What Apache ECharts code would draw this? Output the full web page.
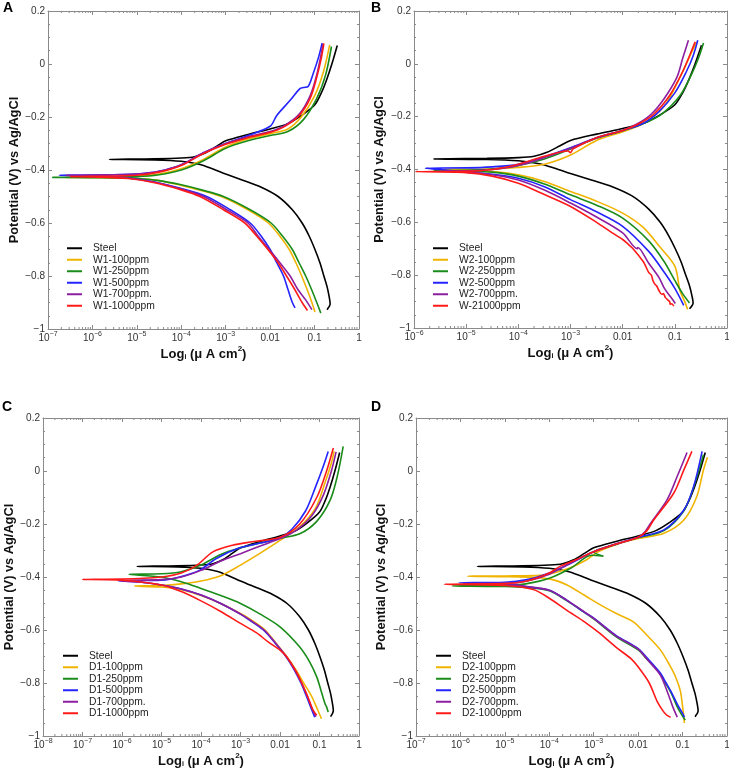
<!DOCTYPE html>
<html lang="en">
<head>
    <meta charset="UTF-8">
    <title>Tafel plots</title>
    <script src="https://cdn.jsdelivr.net/npm/echarts@6/dist/echarts.min.js"></script>
    <style>
        html, body { margin: 0; padding: 0; background: #fff; }
        #main { width: 729px; height: 768px; }
    </style>
</head>
<body>
<div id="main"></div>
<script type="application/javascript">
    // curves: [current density, potential], cathodic end -> Ecorr tip -> anodic end
    var steel = [[0.191,-0.927],[0.224,-0.905],[0.214,-0.88],[0.191,-0.84],[0.162,-0.80],[0.132,-0.75],[0.102,-0.70],[0.0759,-0.65],[0.0525,-0.60],[0.0316,-0.55],[0.0151,-0.50],[0.00631,-0.465],[0.00251,-0.44],[0.001,-0.415],[5.01e-4,-0.395],[2.51e-4,-0.378],[1e-4,-0.367],[2.51e-5,-0.362],[2.4e-6,-0.36],
        [2.51e-5,-0.358],[1e-4,-0.355],[2e-4,-0.35],[3.55e-4,-0.335],[6.31e-4,-0.31],[0.001,-0.29],[0.00316,-0.266],[0.01,-0.245],[0.0251,-0.225],[0.0501,-0.195],[0.1,-0.155],[0.141,-0.11],[0.186,-0.06],[0.245,0.0],[0.324,0.07]];

    // panel A
    var w1_100 = [[0.102,-0.936],[0.0871,-0.90],[0.0676,-0.85],[0.0513,-0.80],[0.038,-0.75],[0.0269,-0.70],[0.0166,-0.65],[0.00912,-0.60],[0.00316,-0.55],[7.94e-4,-0.50],[2.51e-4,-0.475],[1e-4,-0.458],[3.16e-5,-0.44],[1e-5,-0.432],[1.58e-6,-0.429],[2.51e-7,-0.428],
        [1e-6,-0.427],[1e-5,-0.423],[3.16e-5,-0.415],[1e-4,-0.395],[3.16e-4,-0.36],[1e-3,-0.313],[3.16e-3,-0.283],[0.01,-0.263],[0.0251,-0.245],[0.0501,-0.2],[0.1,-0.12],[0.158,-0.03],[0.219,0.072]];
    var w1_250 = [[0.138,-0.94],[0.112,-0.90],[0.0851,-0.85],[0.0631,-0.80],[0.0447,-0.75],[0.0316,-0.70],[0.0191,-0.65],[0.0105,-0.60],[0.00355,-0.55],[8.91e-4,-0.50],[2.82e-4,-0.475],[1e-4,-0.456],[3.16e-5,-0.44],[1e-5,-0.432],[1e-6,-0.429],[1.26e-7,-0.428],
        [1e-6,-0.4275],[1e-5,-0.425],[3.16e-5,-0.418],[1e-4,-0.40],[3.16e-4,-0.365],[1e-3,-0.318],[3.16e-3,-0.29],[0.01,-0.27],[0.0251,-0.255],[0.0562,-0.21],[0.112,-0.13],[0.178,-0.04],[0.24,0.066]];
    var w1_500 = [[0.0363,-0.92],[0.0316,-0.90],[0.0251,-0.85],[0.02,-0.80],[0.0141,-0.75],[0.01,-0.70],[0.00631,-0.65],[0.00355,-0.60],[0.00126,-0.55],[3.72e-4,-0.50],[1e-4,-0.47],[2.51e-5,-0.445],[6.31e-6,-0.43],[1e-6,-0.422],[1.78e-7,-0.42],
        [1e-6,-0.419],[1e-5,-0.415],[3.16e-5,-0.405],[1e-4,-0.38],[3.16e-4,-0.335],[1e-3,-0.30],[3.16e-3,-0.27],[0.01,-0.235],[0.0141,-0.194],[0.0282,-0.137],[0.0468,-0.093],[0.0562,-0.089],[0.0724,-0.084],[0.0933,-0.036],[0.123,0.026],[0.148,0.079]];
    var w1_700 = [[0.0871,-0.927],[0.0631,-0.89],[0.0417,-0.85],[0.0282,-0.80],[0.0166,-0.75],[0.00955,-0.70],[0.00537,-0.65],[0.00316,-0.60],[0.00105,-0.55],[3.16e-4,-0.50],[1e-4,-0.472],[2.51e-5,-0.446],[6.31e-6,-0.43],[1e-6,-0.422],[2.51e-7,-0.42],
        [1e-6,-0.419],[1e-5,-0.415],[3.16e-5,-0.405],[1e-4,-0.38],[3.16e-4,-0.335],[1e-3,-0.30],[3.16e-3,-0.275],[0.01,-0.255],[0.02,-0.235],[0.0447,-0.19],[0.0794,-0.12],[0.112,-0.04],[0.138,0.03],[0.155,0.076]];
    var w1_1000 = [[0.0692,-0.93],[0.0525,-0.90],[0.0355,-0.85],[0.0234,-0.80],[0.0151,-0.75],[0.00891,-0.70],[0.00501,-0.65],[0.00269,-0.60],[8.91e-4,-0.55],[2.63e-4,-0.50],[1e-4,-0.475],[2.51e-5,-0.448],[6.31e-6,-0.432],[1e-6,-0.426],[3.16e-7,-0.425],
        [1e-6,-0.424],[1e-5,-0.42],[3.16e-5,-0.408],[1e-4,-0.383],[3.16e-4,-0.338],[1e-3,-0.303],[3.16e-3,-0.278],[0.01,-0.258],[0.02,-0.238],[0.0447,-0.195],[0.0794,-0.13],[0.112,-0.05],[0.141,0.02],[0.162,0.078]];

    // panel B
    var w2_100 = [[0.176,-0.93],[0.155,-0.90],[0.126,-0.86],[0.1,-0.766],[0.0501,-0.69],[0.0251,-0.62],[0.01,-0.565],[3.16e-3,-0.52],[1e-3,-0.483],[3.16e-4,-0.445],[1e-4,-0.42],[3.16e-5,-0.408],[1e-5,-0.402],[2.82e-6,-0.40],
        [1e-5,-0.399],[3.16e-5,-0.397],[1e-4,-0.392],[3.16e-4,-0.38],[1e-3,-0.345],[3.16e-3,-0.29],[0.01,-0.257],[0.0251,-0.225],[0.0631,-0.16],[0.126,-0.05],[0.2,0.035],[0.263,0.083]];
    var w2_250 = [[0.191,-0.905],[0.141,-0.87],[0.1,-0.82],[0.0631,-0.75],[0.0316,-0.67],[0.01,-0.584],[3.16e-3,-0.535],[1e-3,-0.496],[3.16e-4,-0.455],[1e-4,-0.425],[3.16e-5,-0.41],[1e-5,-0.406],[2.4e-6,-0.404],
        [1e-5,-0.403],[3.16e-5,-0.398],[1e-4,-0.385],[3.16e-4,-0.36],[1e-3,-0.322],[3.16e-3,-0.282],[0.01,-0.253],[0.0251,-0.226],[0.0562,-0.19],[0.126,-0.12],[0.209,-0.04],[0.282,0.02],[0.355,0.079]];
    var w2_500 = [[0.148,-0.914],[0.1,-0.85],[0.0631,-0.79],[0.0316,-0.71],[0.01,-0.615],[3.16e-3,-0.56],[1e-3,-0.514],[3.16e-4,-0.465],[1e-4,-0.433],[3.16e-5,-0.418],[1e-5,-0.41],[3.16e-6,-0.40],[1.66e-6,-0.395],
        [1e-5,-0.394],[3.16e-5,-0.39],[1e-4,-0.38],[3.16e-4,-0.352],[1e-3,-0.318],[3.16e-3,-0.28],[0.01,-0.252],[0.0251,-0.225],[0.0501,-0.18],[0.1,-0.11],[0.166,-0.03],[0.224,0.03],[0.275,0.089]];
    var w2_700 = [[0.102,-0.907],[0.0891,-0.89],[0.0631,-0.85],[0.0501,-0.81],[0.0316,-0.755],[0.0195,-0.695],[0.0191,-0.70],[0.01,-0.64],[3.16e-3,-0.58],[1e-3,-0.527],[3.16e-4,-0.478],[1e-4,-0.44],[3.16e-5,-0.42],[1e-5,-0.41],[3.16e-6,-0.406],
        [1e-5,-0.405],[3.16e-5,-0.40],[1e-4,-0.385],[3.16e-4,-0.355],[1e-3,-0.32],[3.16e-3,-0.28],[0.01,-0.252],[0.02,-0.225],[0.0355,-0.19],[0.0631,-0.13],[0.11,-0.05],[0.141,0.02],[0.182,0.089]];
    var w2_1000 = [[0.0955,-0.917],[0.0871,-0.908],[0.0813,-0.91],[0.0794,-0.90],[0.0661,-0.885],[0.0603,-0.87],[0.0562,-0.872],[0.0501,-0.86],[0.0447,-0.84],[0.0417,-0.835],[0.038,-0.82],[0.0355,-0.80],[0.0316,-0.79],[0.0282,-0.77],[0.0251,-0.75],[0.0158,-0.70],[0.0123,-0.68],[0.01,-0.665],[0.00631,-0.64],[3.16e-3,-0.60],[1e-3,-0.54],[3.16e-4,-0.495],[1e-4,-0.452],[3.16e-5,-0.425],[1e-5,-0.412],[1.07e-6,-0.408],
        [1e-5,-0.407],[3.16e-5,-0.40],[1e-4,-0.38],[3.16e-4,-0.35],[8.91e-4,-0.33],[1e-3,-0.336],[1.12e-3,-0.322],[3.16e-3,-0.28],[0.01,-0.252],[0.02,-0.228],[0.0398,-0.19],[0.0794,-0.12],[0.141,-0.03],[0.2,0.04],[0.245,0.083]];

    // panel C
    var d1_100 = [[0.112,-0.935],[0.0891,-0.9],[0.0631,-0.85],[0.0398,-0.80],[0.0251,-0.75],[0.0148,-0.70],[0.00794,-0.65],[0.00417,-0.60],[0.00178,-0.56],[1e-3,-0.538],[3.16e-4,-0.50],[1e-4,-0.47],[3.16e-5,-0.448],[1e-5,-0.438],[2.09e-6,-0.434],
        [1e-5,-0.432],[3.16e-5,-0.426],[1e-4,-0.415],[3.16e-4,-0.395],[1e-3,-0.355],[3.16e-3,-0.31],[0.01,-0.262],[0.0316,-0.21],[0.0794,-0.14],[0.141,-0.04],[0.2,0.03],[0.234,0.074]];
    var d1_250 = [[0.166,-0.91],[0.151,-0.89],[0.138,-0.878],[0.11,-0.83],[0.0851,-0.777],[0.0562,-0.72],[0.0316,-0.664],[0.01,-0.588],[3.16e-3,-0.54],[1e-3,-0.50],[3.16e-4,-0.47],[1e-4,-0.443],[3.16e-5,-0.418],[1e-5,-0.40],[1.51e-6,-0.39],
        [1e-5,-0.388],[3.16e-5,-0.38],[1e-4,-0.355],[3.16e-4,-0.315],[1e-3,-0.29],[3.16e-3,-0.272],[0.01,-0.254],[0.0316,-0.237],[0.0851,-0.19],[0.186,-0.11],[0.282,-0.02],[0.398,0.093]];
    var d1_500 = [[0.0759,-0.929],[0.0631,-0.9],[0.0468,-0.85],[0.0339,-0.80],[0.0229,-0.75],[0.0141,-0.70],[0.00759,-0.65],[0.0038,-0.60],[0.00158,-0.56],[1e-3,-0.54],[3.16e-4,-0.50],[1e-4,-0.468],[3.16e-5,-0.445],[1e-5,-0.43],[3.16e-6,-0.42],[7.94e-7,-0.414],
        [1e-5,-0.412],[2.88e-5,-0.40],[9.33e-5,-0.374],[2.45e-4,-0.33],[9.55e-4,-0.29],[3.16e-3,-0.272],[0.01,-0.252],[0.02,-0.22],[0.0447,-0.15],[0.0794,-0.06],[0.126,0.02],[0.166,0.074]];
    var d1_700 = [[0.0813,-0.927],[0.0661,-0.9],[0.049,-0.85],[0.0355,-0.80],[0.024,-0.75],[0.0145,-0.70],[0.00776,-0.65],[0.00398,-0.60],[0.00166,-0.56],[1e-3,-0.54],[3.16e-4,-0.50],[1e-4,-0.468],[3.16e-5,-0.445],[1e-5,-0.43],[3.16e-6,-0.42],[8.71e-7,-0.414],
        [1e-5,-0.41],[3.16e-5,-0.40],[1e-4,-0.375],[3.16e-4,-0.34],[1e-3,-0.312],[3.16e-3,-0.283],[0.01,-0.255],[0.0251,-0.225],[0.0631,-0.17],[0.126,-0.09],[0.2,0.0],[0.263,0.072]];
    var d1_1000 = [[0.0851,-0.922],[0.0676,-0.9],[0.0501,-0.85],[0.0355,-0.80],[0.024,-0.75],[0.0145,-0.70],[0.01,-0.676],[0.00501,-0.645],[0.00251,-0.61],[1e-3,-0.575],[3.16e-4,-0.53],[1e-4,-0.49],[3.16e-5,-0.455],[1e-5,-0.43],[1e-6,-0.412],[1e-7,-0.409],
        [1e-6,-0.408],[1e-5,-0.40],[3.16e-5,-0.385],[7.94e-5,-0.355],[2e-4,-0.305],[6.31e-4,-0.28],[2e-3,-0.267],[0.01,-0.25],[0.0316,-0.2],[0.0851,-0.1],[0.151,0.0],[0.224,0.087]];

    // panel D
    var d2_100 = [[0.11,-0.951],[0.102,-0.9],[0.0891,-0.83],[0.0708,-0.78],[0.0501,-0.73],[0.0316,-0.675],[0.0158,-0.62],[0.00794,-0.57],[3.16e-3,-0.537],[1.58e-3,-0.51],[6.31e-4,-0.47],[2.51e-4,-0.43],[1e-4,-0.407],[3.16e-5,-0.401],[1e-5,-0.399],[1.45e-6,-0.397],
        [1e-5,-0.396],[6.31e-5,-0.394],[2.51e-4,-0.37],[6.92e-4,-0.335],[1.26e-3,-0.305],[3.16e-3,-0.278],[0.01,-0.255],[0.038,-0.235],[0.107,-0.185],[0.209,-0.096],[0.295,0.004],[0.363,0.052]];
    var d2_250 = [[0.115,-0.94],[0.1,-0.925],[0.0759,-0.89],[0.0562,-0.84],[0.038,-0.79],[0.0316,-0.765],[0.0158,-0.71],[0.01,-0.675],[3.16e-3,-0.625],[1e-3,-0.558],[5.75e-4,-0.53],[2.51e-4,-0.49],[1e-4,-0.452],[3.16e-5,-0.44],[1e-5,-0.436],[6.61e-7,-0.434],
        [1e-5,-0.432],[3.16e-5,-0.425],[1e-4,-0.405],[3.16e-4,-0.365],[8.91e-4,-0.318],[1.66e-3,-0.322],[1e-3,-0.306],[3.16e-3,-0.277],[0.01,-0.252],[0.038,-0.225],[0.107,-0.15],[0.178,-0.06],[0.295,0.061]];
    var d2_500 = [[0.11,-0.929],[0.1,-0.915],[0.0759,-0.88],[0.0562,-0.835],[0.038,-0.785],[0.0316,-0.762],[0.0158,-0.705],[0.01,-0.67],[3.16e-3,-0.62],[1e-3,-0.555],[5.75e-4,-0.53],[2.51e-4,-0.488],[1e-4,-0.45],[3.16e-5,-0.437],[1e-5,-0.428],[9.33e-7,-0.422],
        [1e-5,-0.42],[3.16e-5,-0.41],[1e-4,-0.385],[2.51e-4,-0.355],[1e-3,-0.305],[3.16e-3,-0.276],[0.01,-0.25],[0.038,-0.222],[0.107,-0.147],[0.178,-0.058],[0.275,0.074]];
    var d2_700 = [[0.0759,-0.929],[0.0603,-0.89],[0.0447,-0.83],[0.0316,-0.77],[0.0158,-0.71],[0.01,-0.672],[3.16e-3,-0.622],[1e-3,-0.556],[2.51e-4,-0.488],[1e-4,-0.45],[3.16e-5,-0.436],[1e-5,-0.428],[1.23e-6,-0.425],
        [1e-5,-0.424],[3.16e-5,-0.415],[1e-4,-0.39],[3.16e-4,-0.345],[1e-3,-0.305],[3.16e-3,-0.275],[0.01,-0.25],[0.0141,-0.23],[0.0191,-0.197],[0.0447,-0.109],[0.0759,-0.02],[0.126,0.07]];
    var d2_1000 = [[0.0537,-0.929],[0.0447,-0.922],[0.038,-0.91],[0.0269,-0.87],[0.0178,-0.80],[0.0112,-0.75],[0.00708,-0.71],[3.16e-3,-0.665],[1.38e-3,-0.613],[6.31e-4,-0.57],[2.45e-4,-0.525],[1e-4,-0.48],[4.37e-5,-0.447],[1e-5,-0.432],[4.37e-7,-0.427],
        [1e-5,-0.425],[3.16e-5,-0.415],[1e-4,-0.385],[1.74e-4,-0.36],[3.98e-4,-0.335],[1e-3,-0.305],[3.16e-3,-0.276],[0.01,-0.25],[0.0158,-0.225],[0.0224,-0.185],[0.0631,-0.084],[0.107,0.004],[0.162,0.074]];

    var namesA = ['Steel', 'W1-100ppm', 'W1-250ppm', 'W1-500ppm', 'W1-700ppm.', 'W1-1000ppm'];
    var namesB = ['Steel', 'W2-100ppm', 'W2-250ppm', 'W2-500ppm', 'W2-700ppm.', 'W-21000ppm'];
    var namesC = ['Steel', 'D1-100ppm', 'D1-250ppm', 'D1-500ppm', 'D1-700ppm.', 'D1-1000ppm'];
    var namesD = ['Steel', 'D2-100ppm', 'D2-250ppm', 'D2-500ppm', 'D2-700ppm.', 'D2-1000ppm'];
    var xMins = [1e-7, 1e-6, 1e-8, 1e-7];
    var letters = ['A', 'B', 'C', 'D'];
    var decadeText = {'-2': '0.01', '-1': '0.1', '0': '1'};

    var colors = ['#000000', '#f0b400', '#1a8c1a', '#2424ff', '#8c1fa0', '#ff1a1a'];
    var axisGray = '#8a8a8a';
    var font = '"Liberation Sans", Arial, sans-serif';

    var panels = [
        {names: namesA, curves: [steel, w1_100, w1_250, w1_500, w1_700, w1_1000]},
        {names: namesB, curves: [steel, w2_100, w2_250, w2_500, w2_700, w2_1000]},
        {names: namesC, curves: [steel, d1_100, d1_250, d1_500, d1_700, d1_1000]},
        {names: namesD, curves: [steel, d2_100, d2_250, d2_500, d2_700, d2_1000]}
    ];
    // pixel layout of each panel
    var layout = [
        {left: 48, top: 11, width: 311, height: 318, legend: [67, 242.5], letter: [3, 1], gapY: 26},
        {left: 414, top: 11, width: 313, height: 317, legend: [433, 242.5], letter: [371, 1], gapY: 28},
        {left: 43, top: 418, width: 316, height: 318, legend: [63, 650], letter: [2, 400], gapY: 24},
        {left: 416, top: 418, width: 311, height: 318, legend: [436, 650], letter: [371, 400], gapY: 28}
    ];

    function yLabel(v) {
        var s = String(Math.round(Math.abs(v) * 10) / 10);
        return v < -1e-9 ? '\u2212' + s : s;
    }

    function xLabel(v) {
        var e = Math.round(Math.log10(v));
        if (decadeText[e] !== undefined) return '{n|' + decadeText[e] + '}';
        return '{n|10}{sup|\u2212' + (-e) + '}';
    }

    function minorTicks(xMin) {
        var out = [];
        for (var d = Math.round(Math.log10(xMin)); d < 0; d++) {
            for (var k = 2; k <= 9; k++) out.push([k * Math.pow(10, d), -1]);
        }
        return out;
    }

    function renderMinor(params, api) {
        var x = api.value(0);
        var b = api.coord([x, -1]);
        var t = api.coord([x, 0.2]);
        var st = {stroke: axisGray, lineWidth: 1};
        return {
            type: 'group', children: [
                {type: 'line', shape: {x1: b[0], y1: b[1], x2: b[0], y2: b[1] - 2}, style: st},
                {type: 'line', shape: {x1: t[0], y1: t[1], x2: t[0], y2: t[1] + 2}, style: st}
            ]
        };
    }

    var option = {
        animation: false,
        backgroundColor: '#ffffff',
        textStyle: {fontFamily: font},
        grid: [], xAxis: [], yAxis: [], legend: [], series: [], graphic: []
    };

    var lineStyleAxis = {color: axisGray, width: 1};

    panels.forEach(function (p, i) {
        var L = layout[i];
        option.grid.push({left: L.left, top: L.top, width: L.width, height: L.height, outerBoundsMode: 'none', containLabel: false});

        option.xAxis.push({
            type: 'log', logBase: 10, gridIndex: i, min: xMins[i], max: 1, position: 'bottom',
            name: '{b|Log}{s|i}{b| (\u03bc A cm}{p|2}{b|)}',
            nameLocation: 'middle', nameGap: 15.5,
            nameTextStyle: {
                color: '#111', fontWeight: 'bold', fontSize: 13,
                rich: {
                    b: {fontSize: 13, fontWeight: 'bold', lineHeight: 16, verticalAlign: 'bottom', color: '#111'},
                    s: {fontSize: 7, lineHeight: 10, verticalAlign: 'bottom', color: '#111'},
                    p: {fontSize: 8, fontWeight: 'bold', lineHeight: 8, verticalAlign: 'top', color: '#111'}
                }
            },
            axisLine: {show: true, onZero: false, lineStyle: lineStyleAxis},
            axisTick: {show: true, inside: true, length: 4, lineStyle: lineStyleAxis},
            splitLine: {show: false},
            axisLabel: {
                formatter: xLabel, color: '#333', margin: 2, hideOverlap: false,
                showMinLabel: true, showMaxLabel: true,
                rich: {
                    n: {fontSize: 10, lineHeight: 12, verticalAlign: 'bottom', color: '#333'},
                    sup: {fontSize: 7, lineHeight: 8, verticalAlign: 'top', color: '#333'}
                }
            }
        });
        option.xAxis.push({
            type: 'log', logBase: 10, gridIndex: i, min: xMins[i], max: 1, position: 'top',
            axisLine: {show: true, onZero: false, lineStyle: lineStyleAxis},
            axisTick: {show: true, inside: true, length: 4, lineStyle: lineStyleAxis},
            axisLabel: {show: false}, splitLine: {show: false}
        });

        option.yAxis.push({
            type: 'value', gridIndex: i, min: -1, max: 0.2, interval: 0.2, position: 'left',
            name: 'Potential (V) vs Ag/AgCl', nameLocation: 'middle', nameGap: L.gapY,
            nameTextStyle: {color: '#111', fontWeight: 'bold', fontSize: 12.8},
            axisLine: {show: true, onZero: false, lineStyle: lineStyleAxis},
            axisTick: {show: true, inside: true, length: 4, lineStyle: lineStyleAxis},
            minorTick: {show: true, splitNumber: 4, length: 2, lineStyle: lineStyleAxis},
            splitLine: {show: false},
            axisLabel: {formatter: yLabel, fontSize: 10, color: '#333', margin: 3}
        });
        option.yAxis.push({
            type: 'value', gridIndex: i, min: -1, max: 0.2, interval: 0.2, position: 'right',
            axisLine: {show: true, onZero: false, lineStyle: lineStyleAxis},
            axisTick: {show: true, inside: true, length: 4, lineStyle: lineStyleAxis},
            minorTick: {show: true, splitNumber: 4, length: 2, lineStyle: lineStyleAxis},
            splitLine: {show: false},
            axisLabel: {show: false}
        });

        // log minor ticks along bottom and top edges
        option.series.push({
            type: 'custom', xAxisIndex: 2 * i, yAxisIndex: 2 * i, silent: true, clip: false,
            data: minorTicks(xMins[i]), encode: {x: 0, y: 1}, renderItem: renderMinor, z: 1
        });

        p.curves.forEach(function (c, k) {
            option.series.push({
                type: 'line', name: p.names[k], xAxisIndex: 2 * i, yAxisIndex: 2 * i,
                data: c, showSymbol: false, symbol: 'none', smooth: 0.3,
                lineStyle: {width: 1.6, color: colors[k]}, itemStyle: {color: colors[k]}
            });
        });

        option.legend.push({
            data: p.names, left: L.legend[0], top: L.legend[1], orient: 'vertical',
            icon: 'rect', itemWidth: 15, itemHeight: 2, itemGap: 0, padding: 0, selectedMode: false,
            formatter: function (n) { return '{sp| }' + n; },
            textStyle: {fontSize: 10.3, color: '#222', lineHeight: 11.5, rich: {sp: {width: 6}}}
        });

        option.graphic.push({
            type: 'text', left: L.letter[0], top: L.letter[1],
            style: {text: letters[i], font: 'bold 14px ' + font, fill: '#000'}
        });
    });

    var myChart = echarts.init(document.getElementById('main'));
    myChart.setOption(option);
</script>
</body>
</html>
